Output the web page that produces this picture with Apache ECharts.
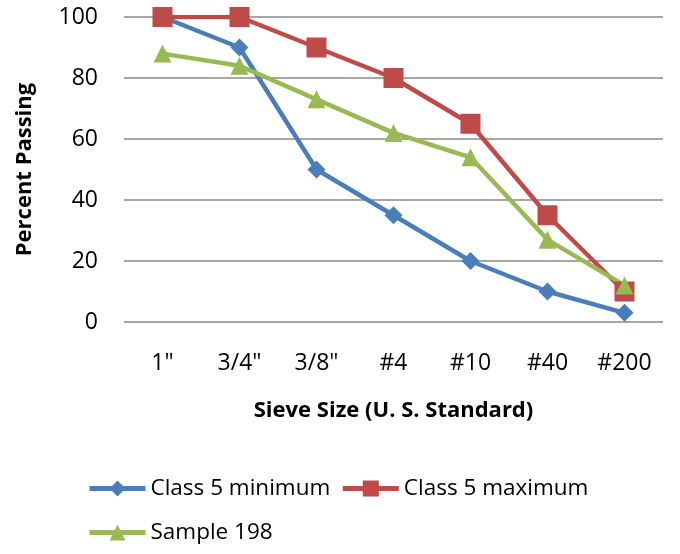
<!DOCTYPE html>
<html><head><meta charset="utf-8">
<script src="https://cdn.jsdelivr.net/npm/echarts@6/dist/echarts.min.js"></script>
<style>html,body{margin:0;padding:0;background:#fff}#c{width:680px;height:554px}</style>
</head><body><div id="c"></div>
<script>
const categories = ['1"', '3/4"', '3/8"', '#4', '#10', '#40', '#200'];
const classMin = [100, 90, 50, 35, 20, 10, 3];
const classMax = [100, 100, 90, 80, 65, 35, 10];
const sample198 = [88, 84, 73, 62, 54, 27, 12];
const seriesNames = ['Class 5 minimum', 'Class 5 maximum', 'Sample 198'];
const FONT = '"Open Sans", sans-serif';
const chart = echarts.init(document.getElementById('c'), null, {renderer: 'canvas'});
const legendText = {fontFamily: FONT, fontSize: 22.5, color: '#000'};
const legendBase = {itemWidth: 56, itemHeight: 20, textStyle: legendText, padding: 0, lineStyle: {width: 5}};
chart.setOption({
  animation: false,
  grid: {left: 124, right: 17, top: 17, bottom: 232},
  xAxis: {
    type: 'category', data: categories, boundaryGap: true,
    axisLine: {show: false}, axisTick: {show: false},
    axisLabel: {fontFamily: FONT, fontSize: 23, color: '#000', margin: 30},
    name: 'Sieve Size (U. S. Standard)', nameLocation: 'middle', nameGap: 78,
    nameTextStyle: {fontFamily: FONT, fontSize: 22, fontWeight: 'bold', color: '#000'}
  },
  yAxis: {
    type: 'value', min: 0, max: 100, interval: 20,
    axisLine: {show: false}, axisTick: {show: false},
    splitLine: {lineStyle: {color: '#898989', width: 1.5}},
    axisLabel: {fontFamily: FONT, fontSize: 23, color: '#000', margin: 26},
    name: 'Percent Passing', nameLocation: 'middle', nameGap: 88,
    nameTextStyle: {fontFamily: FONT, fontSize: 22, fontWeight: 'bold', color: '#000'}
  },
  legend: [
    Object.assign({data: [seriesNames[0], seriesNames[1]], left: 87, top: 477, itemGap: 10}, legendBase),
    Object.assign({data: [seriesNames[2]], left: 87, top: 521}, legendBase)
  ],
  series: [
    {name: seriesNames[0], type: 'line', data: classMin, symbol: 'diamond', symbolSize: 18,
     lineStyle: {color: '#4a7ebb', width: 4.5}, itemStyle: {color: '#4a7ebb'}},
    {name: seriesNames[1], type: 'line', data: classMax, symbol: 'rect', symbolSize: 20,
     lineStyle: {color: '#be4b48', width: 4.5}, itemStyle: {color: '#be4b48'}},
    {name: seriesNames[2], type: 'line', data: sample198, symbol: 'triangle', symbolSize: 18,
     lineStyle: {color: '#98b954', width: 4.5}, itemStyle: {color: '#98b954'}}
  ]
});
</script></body></html>
